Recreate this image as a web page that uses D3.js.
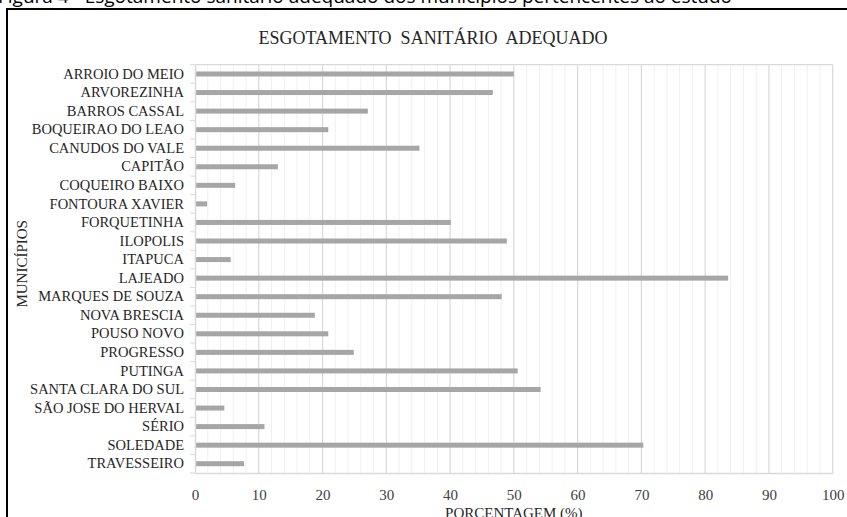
<!DOCTYPE html>
<html>
<head>
<meta charset="utf-8">
<script src="https://cdn.jsdelivr.net/npm/d3@7"></script>
<style>
  body { margin: 0; background: #fff; }
  svg { display: block; }
</style>
</head>
<body>
<div id="my_dataviz"></div>
<script>
// municipios e porcentagem de esgotamento sanitario adequado
var municipios = ["ARROIO DO MEIO", "ARVOREZINHA", "BARROS CASSAL", "BOQUEIRAO DO LEAO",
  "CANUDOS DO VALE", "CAPITÃO", "COQUEIRO BAIXO", "FONTOURA XAVIER", "FORQUETINHA",
  "ILOPOLIS", "ITAPUCA", "LAJEADO", "MARQUES DE SOUZA", "NOVA BRESCIA", "POUSO NOVO",
  "PROGRESSO", "PUTINGA", "SANTA CLARA DO SUL", "SÃO JOSE DO HERVAL", "SÉRIO",
  "SOLEDADE", "TRAVESSEIRO"];
var porcentagem = [50.0, 46.7, 27.1, 20.9, 35.2, 13.0, 6.3, 1.9, 40.1, 48.9, 5.6, 83.6,
  48.1, 18.8, 20.9, 24.9, 50.6, 54.2, 4.6, 10.9, 70.3, 7.7];
var xTicks = [0, 10, 20, 30, 40, 50, 60, 70, 80, 90, 100];
var xMinor = d3.range(0, 101, 2);

var titulo = "ESGOTAMENTO  SANITÁRIO  ADEQUADO";
var legenda = "Figura 4 - Esgotamento sanitário adequado dos municípios pertencentes ao estudo";

var W = 847, H = 517;
var margin = {top: 64.7, right: 14.3, bottom: 44, left: 195};
var width = W - margin.left - margin.right,
    height = H - margin.top - margin.bottom;

var root = d3.select("#my_dataviz").append("svg")
  .attr("width", W).attr("height", H);

// caption cut at the top of the picture
root.append("text")
  .attr("x", -2).attr("y", 3)
  .style("font-family", "'Open Sans', 'Liberation Sans', sans-serif")
  .style("font-size", "19px")
  .style("fill", "#000")
  .text(legenda);

// black frame
root.append("rect")
  .attr("x", 7).attr("y", 9)
  .attr("width", W + 10).attr("height", H + 10)
  .attr("fill", "none")
  .attr("stroke", "#000")
  .attr("stroke-width", 2);

var svg = root.append("g")
  .attr("transform", `translate(${margin.left}, ${margin.top})`);

var x = d3.scaleLinear().domain([0, 100]).range([0, width]);
var y = d3.scaleBand().domain(municipios).range([0, height]).paddingInner(0.73).paddingOuter(0.365);

// minor grid
svg.append("g").selectAll("line")
  .data(xMinor.filter(function(d){ return d % 10 !== 0; }))
  .join("line")
    .attr("x1", function(d){ return x(d); }).attr("x2", function(d){ return x(d); })
    .attr("y1", 0).attr("y2", height)
    .attr("stroke", "#f0f0f0").attr("stroke-width", 1);

// major grid
svg.append("g").selectAll("line")
  .data(xTicks.slice(1))
  .join("line")
    .attr("x1", function(d){ return x(d); }).attr("x2", function(d){ return x(d); })
    .attr("y1", 0).attr("y2", height)
    .attr("stroke", "#d9d9d9").attr("stroke-width", 1.2);

// top border of the plot
svg.append("line")
  .attr("x1", 0).attr("x2", width).attr("y1", 0).attr("y2", 0)
  .attr("stroke", "#d9d9d9").attr("stroke-width", 1.2);

// bars
svg.append("g").selectAll("rect")
  .data(municipios)
  .join("rect")
    .attr("x", x(0))
    .attr("y", function(d){ return y(d); })
    .attr("width", function(d, i){ return x(porcentagem[i]) - x(0); })
    .attr("height", y.bandwidth())
    .attr("fill", "#a6a6a6");

// x axis
var xAxis = svg.append("g")
  .attr("transform", `translate(0,${height})`)
  .call(d3.axisBottom(x).tickValues(xTicks).tickSize(0).tickPadding(16));
xAxis.select(".domain").attr("stroke", "#d9d9d9").attr("stroke-width", 1.5);
xAxis.selectAll("text")
  .style("font-family", "'Liberation Serif', 'DejaVu Serif', serif")
  .style("font-size", "15px")
  .style("fill", "#404040");

// y axis with ticks between categories
var yAxis = svg.append("g").call(d3.axisLeft(y).tickSize(0).tickPadding(11));
yAxis.select(".domain").attr("stroke", "#d9d9d9").attr("stroke-width", 1.5);
yAxis.selectAll("text")
  .style("font-family", "'Liberation Serif', 'DejaVu Serif', serif")
  .style("font-size", "14.5px")
  .style("fill", "#262626");
svg.append("g").selectAll("line")
  .data(d3.range(municipios.length + 1))
  .join("line")
    .attr("x1", -5).attr("x2", 0)
    .attr("y1", function(d){ return d * y.step(); })
    .attr("y2", function(d){ return d * y.step(); })
    .attr("stroke", "#d9d9d9");

// title
root.append("text")
  .attr("x", 433).attr("y", 43.5)
  .attr("text-anchor", "middle")
  .attr("xml:space", "preserve")
  .style("white-space", "pre")
  .style("font-family", "'Liberation Serif', 'DejaVu Serif', serif")
  .style("font-size", "18px")
  .style("fill", "#262626")
  .text(titulo);

// axis titles
root.append("text")
  .attr("x", margin.left + width / 2).attr("y", 518)
  .attr("text-anchor", "middle")
  .style("font-family", "'Liberation Serif', 'DejaVu Serif', serif")
  .style("font-size", "15px")
  .style("fill", "#262626")
  .text("PORCENTAGEM (%)");

root.append("text")
  .attr("transform", `translate(27, ${margin.top + height / 2 - 5}) rotate(-90)`)
  .attr("text-anchor", "middle")
  .style("font-family", "'Liberation Serif', 'DejaVu Serif', serif")
  .style("font-size", "15px")
  .style("fill", "#262626")
  .text("MUNICÍPIOS");
</script>
</body>
</html>
